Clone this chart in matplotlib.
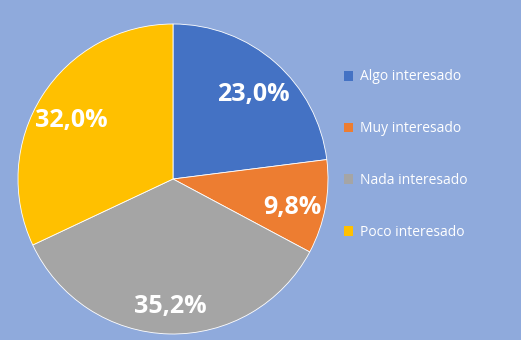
import matplotlib.pyplot as plt

categorias = ['Algo interesado', 'Muy interesado', 'Nada interesado', 'Poco interesado']
valores = [23.0, 9.8, 35.2, 32.0]
colores = ['#4472C4', '#ED7D31', '#A5A5A5', '#FFC000']
fondo = '#8FAADC'

plt.rcParams['font.family'] = ['Open Sans', 'DejaVu Sans']

fig = plt.figure(figsize=(5.21, 3.40), dpi=100, facecolor=fondo)
ax = fig.add_axes([18 / 521, 6 / 340, 310 / 521, 310 / 340])
ax.set_facecolor(fondo)

wedges, texts, autotexts = ax.pie(
    valores, colors=colores, startangle=90, counterclock=False,
    autopct=lambda p: f'{p:.1f}%'.replace('.', ','), pctdistance=0.78,
    wedgeprops=dict(edgecolor='white', linewidth=0.6),
    textprops=dict(color='white', fontsize=18, fontweight='bold'))
# bajar un poco las etiquetas
for t in autotexts:
    x, y = t.get_position()
    t.set_position((x, y - 0.04))
ax.set_xlim(-1, 1)
ax.set_ylim(-1, 1)
ax.set_aspect('equal')

leg = fig.legend(wedges, categorias, loc='upper left', bbox_to_anchor=(331 / 521, 1 - 57 / 340),
                 frameon=False, fontsize=10, labelcolor='white', handlelength=0.7,
                 handleheight=0.7, handletextpad=0.5, labelspacing=2.65)
for h in leg.legend_handles:
    h.set_edgecolor('none')

fig.savefig('out.png', facecolor=fondo)
